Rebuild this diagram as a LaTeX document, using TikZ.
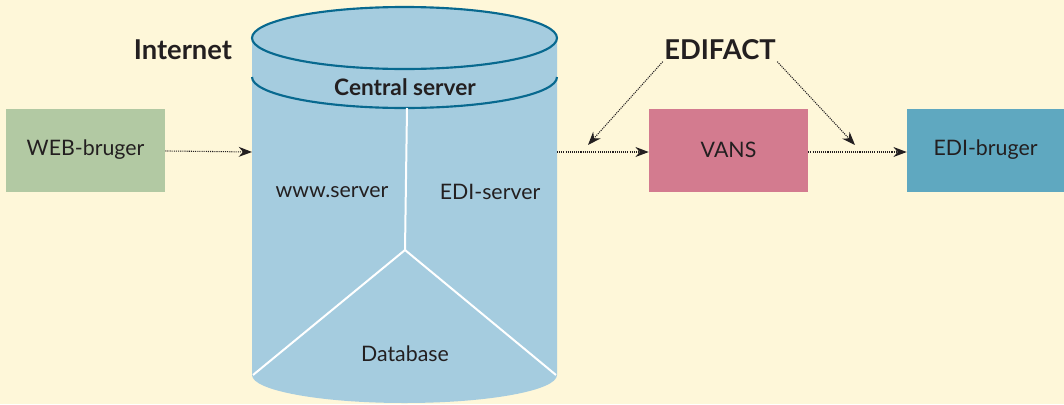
\documentclass[tikz,border=0pt]{standalone}
\usepackage{fontspec}
\setmainfont{Lato}
\usetikzlibrary{arrows.meta}

\definecolor{bgcream}{HTML}{FEF7D9}
\definecolor{cylblue}{HTML}{A5CCDF}
\definecolor{cylline}{HTML}{08698F}
\definecolor{webgreen}{HTML}{B2C9A3}
\definecolor{vanspink}{HTML}{D37B8F}
\definecolor{edicyan}{HTML}{5FA8C0}
\definecolor{inkgrey}{HTML}{231F20}

\tikzset{
  box/.style={minimum height=62.25pt,inner sep=0pt,text=inkgrey,
    font=\fontsize{16}{19}\selectfont},
  flow/.style={->,dash pattern=on 0.8pt off 0.8pt,line width=0.8pt,draw=inkgrey},
  label/.style={text=inkgrey,font=\fontsize{16}{19}\selectfont}
}

\begin{document}
\begin{tikzpicture}[x=0.75pt,y=-0.75pt,>={Stealth[length=10pt,width=7.5pt]}]
			\useasboundingbox[fill=bgcream] (0,0) rectangle (1064,404);

			% cylinder
			\fill[cylblue] (252,38) -- (252,375)
				arc[start angle=180,end angle=360,x radius=114.375pt,y radius=21pt]
				-- (557,38) -- cycle;
			\filldraw[fill=cylblue,draw=cylline,line width=1.6pt] (404.5,38)
				ellipse[x radius=114.375pt,y radius=23.25pt];
			\draw[cylline,line width=1.6pt] (252,77)
				arc[start angle=180,end angle=360,x radius=114.375pt,y radius=23.25pt];
			\coordinate (hub) at (405,250);
			\draw[white,line width=1.5pt] (407,108) -- (hub);
			\draw[white,line width=1.5pt] (253,375) -- (hub) -- (556,375);
			\coordinate (cylW) at (252,152);
			\coordinate (cylE) at (557,152);

			\node[label,font=\bfseries\fontsize{20.5}{24}\selectfont] (internet) at (183,50) {Internet};
			\node[label,font=\bfseries\fontsize{17}{20}\selectfont] (central) at (405,87) {Central server};
			\node[label] (www) at (332,192) {www.server};
			\node[label] (ediserv) at (490,192) {EDI-server};
			\node[label] (db) at (405,354) {Database};
			\node[label,font=\bfseries\fontsize{20.5}{24}\selectfont,inner sep=1pt] (edifact) at (720,50) {EDIFACT};

			\node[box,fill=webgreen,minimum width=119.25pt] (web) at (85.5,150) {WEB-bruger};
			\node[box,fill=vanspink,minimum width=119.25pt] (vans) at (728.5,150) {VANS};
			\node[box,fill=edicyan,minimum width=117.75pt] (edi) at (985.5,150) {EDI-bruger};

			\coordinate (inL) at (588,145);
			\coordinate (inR) at (855,145);

			\draw[flow] (web) -- (cylW);
			\draw[flow] (cylE) -- (vans.west |- cylE);
			\draw[flow] (vans.east |- cylE) -- (edi.west |- cylE);
			\draw[flow] (edifact.south west) -- (inL);
			\draw[flow] (edifact.south east) -- (inR);
		\end{tikzpicture}
\end{document}
